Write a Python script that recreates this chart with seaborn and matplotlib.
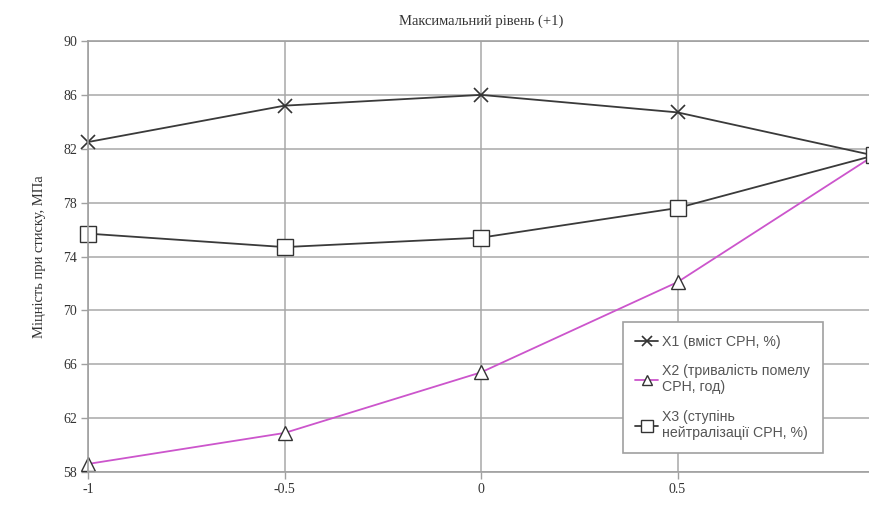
import matplotlib
matplotlib.use("Agg")
import matplotlib.pyplot as plt
import seaborn as sns
import pandas as pd

# factor levels (coded)
levels = [-1, -0.5, 0, 0.5, 1]
x1 = [82.5, 85.2, 86.0, 84.7, 81.5]
x2 = [58.6, 60.9, 65.4, 72.1, 81.5]
x3 = [75.7, 74.7, 75.4, 77.6, 81.5]
labels = ["X1 (вміст СРН, %)",
          "X2 (тривалість помелу\nСРН, год)",
          "X3 (ступінь\nнейтралізації СРН, %)"]
y_ticks = [58, 62, 66, 70, 74, 78, 82, 86, 90]
x_ticks = [-1, -0.5, 0, 0.5]

sns.set_style("white")
serif = ["Liberation Serif", "DejaVu Serif"]
sans = ["Liberation Sans", "DejaVu Sans"]

fig = plt.figure(figsize=(8.69, 5.05), dpi=100)
ax = fig.add_axes([0.1013, 0.0653, 0.9045, 0.8535])

df = pd.DataFrame({"level": levels, "X1": x1, "X2": x2, "X3": x3})

sns.lineplot(data=df, x="level", y="X1", ax=ax, color="#3a3a3a", lw=1.3,
             marker="x", markersize=10, markeredgewidth=1.2,
             markeredgecolor="#333333", label=labels[0], clip_on=False)
sns.lineplot(data=df, x="level", y="X2", ax=ax, color="#cc55cc", lw=1.3,
             marker="^", markersize=10, markerfacecolor="white",
             markeredgecolor="#333333", markeredgewidth=1.0, label=labels[1],
             clip_on=False)
sns.lineplot(data=df, x="level", y="X3", ax=ax, color="#3a3a3a", lw=1.3,
             marker="s", markersize=12, markerfacecolor="white",
             markeredgecolor="#333333", markeredgewidth=1.0, label=labels[2],
             clip_on=False)

ax.set_xlim(-1, 1)
ax.set_ylim(58, 90)
ax.set_xticks(x_ticks)
ax.set_xticklabels(["-1", "-0.5", "0", "0.5"])
ax.set_yticks(y_ticks)
ax.grid(True, color="#a8a8a8", lw=1.1)
ax.set_axisbelow(True)
for side in ["top", "left", "bottom"]:
    ax.spines[side].set_color("#a0a0a0")
    ax.spines[side].set_linewidth(1.2)
ax.spines["right"].set_visible(False)
ax.tick_params(axis="both", direction="out", length=5, width=1, color="#a0a0a0",
               labelsize=10, labelcolor="#333333", pad=3, left=True, bottom=True)
for t in ax.get_xticklabels() + ax.get_yticklabels():
    t.set_family(serif)

ax.set_xlabel("")
ax.set_ylabel("Міцність при стиску, МПа", family=serif, fontsize=10.5,
              color="#333333", labelpad=12)
ax.set_title("Максимальний рівень (+1)", family=serif, fontsize=10.5,
             color="#333333", pad=12)

leg = ax.legend(loc="lower left", bbox_to_anchor=(0.671, 0.028), frameon=True,
                fancybox=False, edgecolor="#a0a0a0", handlelength=1.6,
                handletextpad=0.3, labelspacing=1.1, borderpad=0.9,
                markerscale=0.75, framealpha=1,
                prop={"family": sans, "size": 10.2})
leg.get_frame().set_linewidth(1.2)
for t in leg.get_texts():
    t.set_color("#555555")

fig.savefig("out.png", dpi=100)
